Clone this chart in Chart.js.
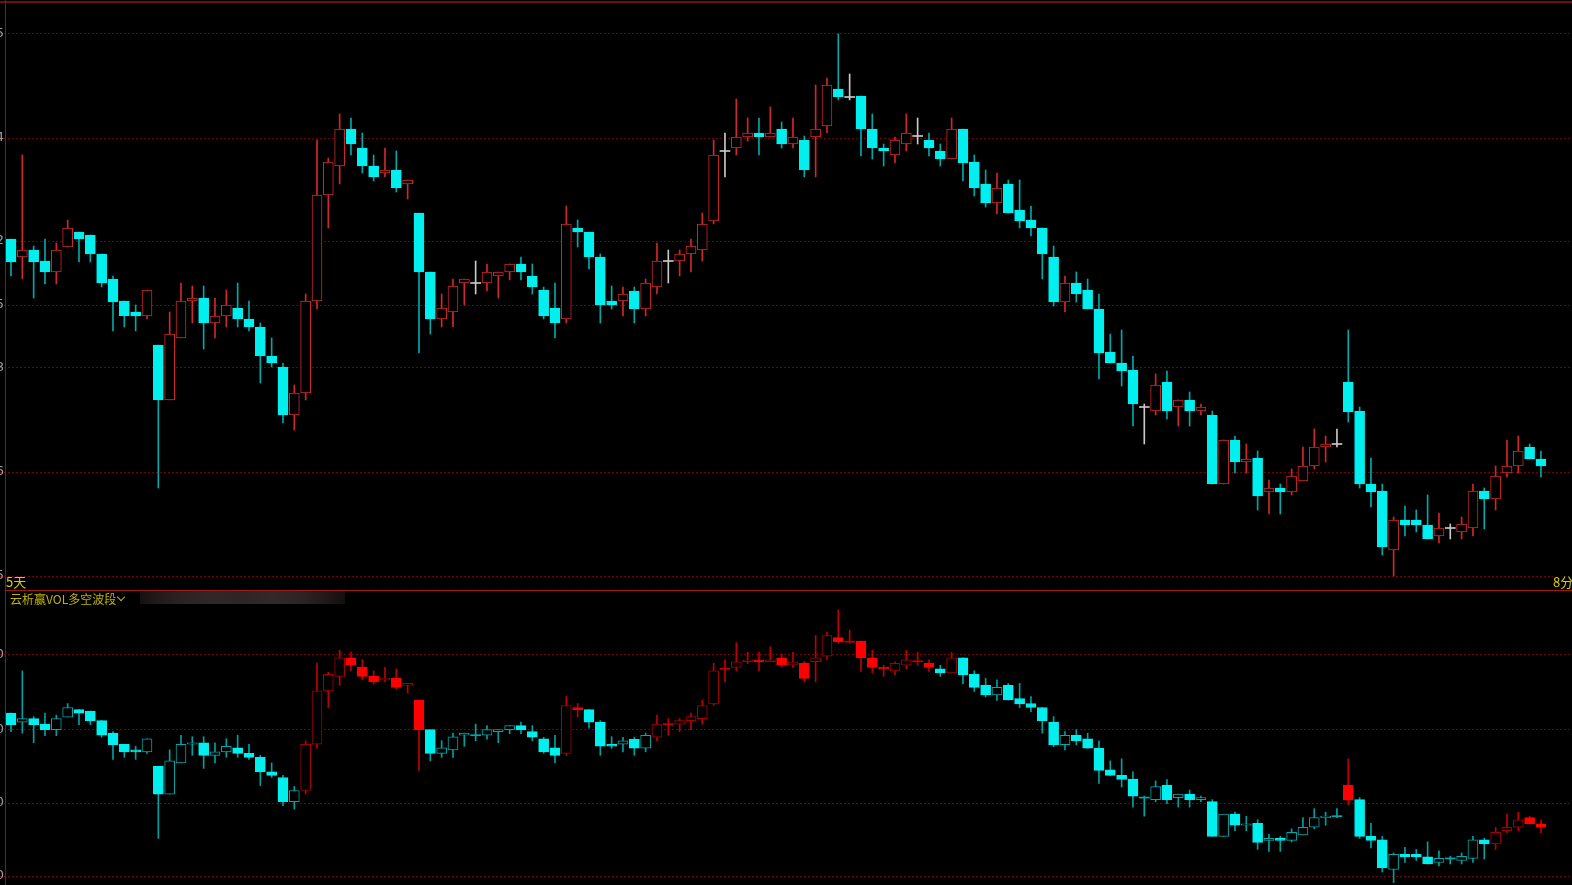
<!DOCTYPE html>
<html>
<head>
<meta charset="utf-8">
<script src="https://cdn.jsdelivr.net/npm/chart.js@4.4.1/dist/chart.umd.min.js"></script>
<style>
  html, body { margin: 0; padding: 0; background: #000; width: 1572px; height: 885px; overflow: hidden; }
  .pane { position: absolute; left: 0; width: 1572px; }
  #top { top: 0; height: 590px; }
  #bot { top: 591px; height: 294px; }
  .rule { position: absolute; }
  .txt { position: absolute; font-family: "Noto Sans CJK SC", "Noto Sans", sans-serif; font-size: 12px; line-height: 14px; white-space: nowrap; }
</style>
</head>
<body>
<div class="pane" id="top"><canvas id="chartK" width="1572" height="590"></canvas></div>
<div class="pane" id="bot"><canvas id="chartVol" width="1572" height="294"></canvas></div>

<div class="rule" style="left:0;top:1px;width:1572px;height:2px;background:#6e0e0e"></div>
<div class="rule" style="left:5px;top:0;width:1px;height:885px;background:#8c1414"></div>
<div class="rule" style="left:5px;top:590px;width:1567px;height:1px;background:#a01818"></div>

<div class="txt" style="left:6px;top:575px;color:#dccf00;font-size:13px">5天</div>
<div class="txt" style="left:1553px;top:575px;color:#dccf00;background:#000;padding-right:4px;font-size:13px">8分</div>
<div class="txt" style="left:10px;top:592px;color:#c0b400">云析赢VOL多空波段</div>
<div class="rule" style="left:118px;top:594px;width:5px;height:5px;border-right:1px solid #c0b400;border-bottom:1px solid #c0b400;transform:rotate(45deg)"></div>
<div class="rule" style="left:140px;top:591px;width:205px;height:13px;
  background:linear-gradient(90deg,#161010 0%,#221a1a 8%,#2a2222 18%,#302828 35%,#2e2626 50%,#322a2a 65%,#2c2424 80%,#221a1a 90%,#140e0e 100%)"></div>

<script>
// price K-line, one entry per trading day (left to right)
const opens = [13.36, 13.18, 13.25, 13.14, 13.03, 13.28, 13.43, 13.40, 13.21, 12.96,
  12.74, 12.63, 12.59, 12.30, 11.75, 12.37, 12.74, 12.77, 12.52, 12.59,
  12.67, 12.56, 12.48, 12.19, 12.08, 11.60, 11.82, 12.74, 13.80, 14.09,
  14.46, 14.27, 14.09, 14.02, 14.05, 13.91, 13.62, 13.03, 12.56, 12.63,
  12.92, 12.92, 12.92, 12.99, 13.03, 13.11, 12.99, 12.85, 12.67, 12.56,
  13.47, 13.43, 13.18, 12.74, 12.74, 12.84, 12.66, 12.88, 13.14, 13.14,
  13.21, 13.25, 13.54, 14.24, 14.27, 14.38, 14.42, 14.38, 14.46, 14.31,
  14.35, 14.38, 14.49, 14.86, 14.78, 14.79, 14.46, 14.27, 14.20, 14.31,
  14.39, 14.35, 14.24, 14.16, 14.46, 14.13, 13.91, 13.72, 13.91, 13.65,
  13.55, 13.47, 13.18, 12.73, 12.92, 12.85, 12.66, 12.23, 12.12, 12.05,
  11.68, 11.64, 11.93, 11.68, 11.75, 11.64, 11.60, 10.91, 11.35, 11.13,
  11.17, 10.83, 10.87, 10.83, 10.94, 11.09, 11.28, 11.31, 11.93, 11.64,
  10.91, 10.84, 10.25, 10.55, 10.55, 10.50, 10.39, 10.47, 10.43, 10.47,
  10.84, 10.76, 11.02, 11.09, 11.28, 11.16];
const highs = [13.36, 14.20, 13.29, 13.36, 13.32, 13.55, 13.43, 13.40, 13.21, 12.99,
  12.74, 12.70, 12.85, 12.30, 12.63, 12.92, 12.89, 12.89, 12.77, 12.85,
  12.92, 12.74, 12.52, 12.37, 12.12, 11.90, 12.81, 14.35, 14.17, 14.61,
  14.57, 14.42, 14.20, 14.27, 14.24, 13.95, 13.62, 13.03, 12.81, 12.96,
  12.96, 13.14, 13.11, 13.03, 13.11, 13.18, 13.11, 12.88, 12.92, 13.69,
  13.55, 13.43, 13.21, 12.89, 12.88, 12.88, 12.96, 13.32, 13.25, 13.25,
  13.36, 13.62, 14.35, 14.42, 14.76, 14.57, 14.57, 14.68, 14.53, 14.57,
  14.39, 14.90, 14.97, 15.41, 15.01, 14.79, 14.61, 14.31, 14.38, 14.61,
  14.57, 14.42, 14.31, 14.57, 14.46, 14.20, 14.05, 14.02, 13.95, 13.95,
  13.69, 13.47, 13.29, 12.99, 13.03, 12.96, 12.81, 12.41, 12.45, 12.19,
  11.71, 12.01, 12.04, 11.75, 11.83, 11.71, 11.64, 11.35, 11.39, 11.31,
  11.24, 10.95, 10.91, 11.06, 11.28, 11.46, 11.39, 11.46, 12.45, 11.68,
  11.17, 10.91, 10.58, 10.69, 10.65, 10.80, 10.62, 10.51, 10.58, 10.91,
  10.87, 11.09, 11.35, 11.39, 11.31, 11.24];
const lows = [12.99, 12.96, 12.77, 12.91, 12.91, 13.28, 13.13, 13.13, 12.88, 12.44,
  12.48, 12.44, 12.56, 10.87, 11.75, 12.37, 12.52, 12.26, 12.37, 12.48,
  12.48, 12.44, 11.92, 12.08, 11.52, 11.45, 11.75, 12.66, 13.47, 13.91,
  14.20, 14.02, 13.94, 13.98, 13.83, 13.76, 12.22, 12.41, 12.48, 12.48,
  12.70, 12.81, 12.84, 12.77, 12.95, 12.95, 12.81, 12.56, 12.37, 12.52,
  13.28, 13.06, 12.52, 12.66, 12.59, 12.52, 12.59, 12.81, 12.92, 12.99,
  13.03, 13.14, 13.51, 13.98, 14.20, 14.34, 14.20, 14.38, 14.27, 14.27,
  13.98, 13.98, 14.42, 14.75, 14.75, 14.19, 14.16, 14.09, 14.12, 14.24,
  14.31, 14.19, 14.09, 14.16, 13.94, 13.79, 13.68, 13.61, 13.62, 13.47,
  13.39, 12.96, 12.69, 12.63, 12.73, 12.66, 11.96, 12.12, 11.89, 11.49,
  11.31, 11.60, 11.56, 11.49, 11.49, 11.60, 10.91, 10.91, 11.02, 11.02,
  10.65, 10.61, 10.61, 10.80, 10.94, 11.06, 11.13, 11.28, 11.53, 10.87,
  10.68, 10.20, 9.99, 10.39, 10.43, 10.36, 10.32, 10.36, 10.36, 10.39,
  10.46, 10.65, 10.98, 11.02, 11.16, 10.98];
const closes = [13.13, 13.25, 13.13, 13.03, 13.25, 13.47, 13.36, 13.21, 12.92, 12.73,
  12.59, 12.59, 12.85, 11.75, 12.41, 12.74, 12.77, 12.52, 12.59, 12.70,
  12.56, 12.48, 12.19, 12.12, 11.60, 11.82, 12.74, 13.80, 14.13, 14.46,
  14.31, 14.09, 13.98, 14.05, 13.87, 13.95, 13.03, 12.56, 12.67, 12.89,
  12.96, 12.92, 13.03, 13.03, 13.11, 13.03, 12.88, 12.59, 12.52, 13.51,
  13.43, 13.18, 12.70, 12.70, 12.81, 12.66, 12.92, 13.14, 13.14, 13.21,
  13.29, 13.51, 14.20, 14.24, 14.38, 14.42, 14.38, 14.42, 14.31, 14.38,
  14.05, 14.46, 14.90, 14.78, 14.78, 14.46, 14.27, 14.24, 14.35, 14.42,
  14.39, 14.27, 14.16, 14.46, 14.12, 13.87, 13.72, 13.87, 13.62, 13.54,
  13.47, 13.21, 12.73, 12.92, 12.81, 12.66, 12.22, 12.12, 12.04, 11.71,
  11.68, 11.90, 11.64, 11.75, 11.64, 11.68, 10.91, 11.35, 11.13, 11.16,
  10.79, 10.87, 10.83, 10.99, 11.09, 11.28, 11.31, 11.31, 11.63, 10.91,
  10.83, 10.28, 10.55, 10.50, 10.50, 10.36, 10.47, 10.47, 10.51, 10.84,
  10.76, 10.99, 11.09, 11.24, 11.16, 11.09];

// day ranges where the VOL wave indicator is in its red (bull) state
const redWaves = [[26, 36], [49, 50], [57, 81], [83, 83], [118, 118], [131, 135]];

const priceTicks = [15.41, 14.37, 13.34, 12.70, 12.07, 11.03, 9.99];
const priceTickLabels = ["5", "4", "2", "5", "8", "6", "5"];
const volTicks = [14.52, 13.04, 11.57, 10.12];
const volTickLabels = ["0", "0", "0", "0"];

const CYAN = "#00f0f0";

function inRedWave(i) {
  return redWaves.some(([a, b]) => i >= a && i <= b);
}

function direcao(i) {
  if (closes[i] > opens[i]) return 1;
  if (closes[i] < opens[i]) return -1;
  return 0;
}

function estiloK(i) {
  const d = direcao(i);
  if (d > 0) return { fill: "#000", border: "#d02828", wick: "#d02828", doji: false };
  if (d < 0) return { fill: CYAN, border: CYAN, wick: "#00a8a8", doji: false };
  return { fill: "#c8c8c8", border: "#c8c8c8", wick: "#c8c8c8", doji: true };
}

function estiloVol(i) {
  const d = direcao(i);
  if (inRedWave(i)) {
    if (d > 0) return { fill: "#000", border: "#a80000", wick: "#c00000", doji: false };
    if (d < 0) return { fill: "#ff0000", border: "#ff0000", wick: "#c00000", doji: false };
    return { fill: "#c00000", border: "#c00000", wick: "#c00000", doji: true };
  }
  if (d > 0) return { fill: "#000", border: "#00a8a8", wick: "#00a0a0", doji: false };
  if (d < 0) return { fill: CYAN, border: CYAN, wick: "#00a0a0", doji: false };
  return { fill: "#00a8a8", border: "#00a8a8", wick: "#00a8a8", doji: true };
}

const axisLabels = {
  id: "axisLabels",
  afterDraw(chart, args, opts) {
    const { ctx } = chart;
    const y = chart.scales.y;
    ctx.save();
    ctx.fillStyle = "#9c9c9c";
    ctx.font = '13px "DejaVu Sans"';
    ctx.textAlign = "right";
    ctx.textBaseline = "middle";
    opts.values.forEach((v, k) => ctx.fillText(opts.labels[k], 4, y.getPixelForValue(v)));
    ctx.restore();
  }
};

function montar(canvasId, yMin, yMax, tickValues, tickLabels, dojiHalf, estilo) {
  const dias = opens.map((_, i) => i);
  const cores = dias.map(estilo);

  const corpos = dias.map((i) => {
    const o = opens[i], c = closes[i];
    if (o === c) return { x: i, y: [o - dojiHalf, o + dojiHalf] };
    return { x: i, y: [Math.min(o, c), Math.max(o, c)] };
  });
  const sombras = dias.map((i) => ({ x: i, y: [lows[i], highs[i]] }));

  return new Chart(document.getElementById(canvasId), {
    type: "bar",
    data: {
      datasets: [
        {
          data: corpos,
          order: 1,
          grouped: false,
          barThickness: 10,
          borderSkipped: false,
          backgroundColor: cores.map((c) => c.fill),
          borderColor: cores.map((c) => c.border),
          borderWidth: cores.map((c) => (c.doji ? 0 : 1))
        },
        {
          data: sombras,
          order: 2,
          grouped: false,
          barThickness: 1,
          borderWidth: 0,
          backgroundColor: cores.map((c) => c.wick)
        }
      ]
    },
    options: {
      responsive: false,
      animation: false,
      events: [],
      layout: { padding: 0 },
      plugins: {
        legend: { display: false },
        tooltip: { enabled: false },
        axisLabels: { values: tickValues, labels: tickLabels }
      },
      scales: {
        x: { type: "linear", min: -0.97, max: 137.74, offset: false, display: false },
        y: {
          min: yMin,
          max: yMax,
          ticks: { display: false },
          grid: { color: "#740000", lineWidth: 1, drawTicks: false },
          border: { display: false, dash: [2, 2] },
          afterBuildTicks: (scale) => {
            scale.ticks = tickValues.map((v) => ({ value: v }));
          }
        }
      }
    },
    plugins: [axisLabels]
  });
}

montar("chartK", 9.85, 15.75, priceTicks, priceTickLabels, 0.005, estiloK);
montar("chartVol", 9.942, 15.787, volTicks, volTickLabels, 0.01, estiloVol);
</script>
</body>
</html>
